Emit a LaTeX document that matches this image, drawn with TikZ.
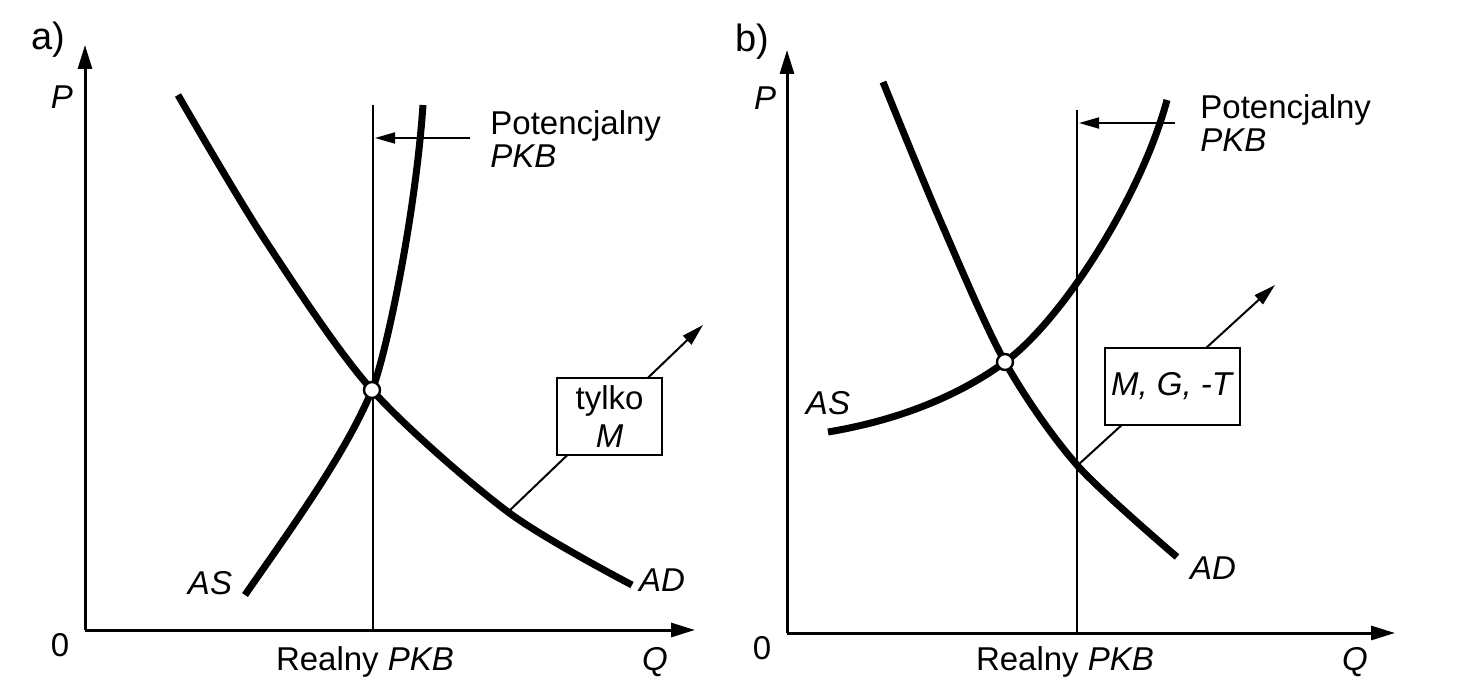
\documentclass[tikz,border=0pt]{standalone}
\usepackage{fontspec}
\setmainfont{Liberation Sans}
\usetikzlibrary{arrows.meta}
\begin{document}
\begin{tikzpicture}[x=0.5pt,y=-0.5pt,
  font=\fontsize{16.5}{19}\selectfont,
  axis/.style={line width=1.5pt,-{Triangle[length=12pt,width=7pt]}},
  curve/.style={line width=3.5pt},
  potline/.style={line width=1pt},
  shiftarrow/.style={line width=0.9pt,-{Triangle[length=10pt,width=5.5pt]}},
  policy/.style={line width=1pt,-{Triangle[length=11pt,width=6pt]}},
  policybox/.style={draw,line width=1.3pt,fill=white,minimum height=38.5pt,align=center,inner sep=1pt},
  eq/.style={circle,draw,line width=1.2pt,fill=white,minimum size=8pt,inner sep=0pt},
  lbl/.style={inner sep=0pt},
  panel/.style={inner sep=0pt,font=\fontsize{19}{22}\selectfont}]
\useasboundingbox (0,0) rectangle (1458,690);

% ---------- panel a ----------
\node[panel] (la) at (48,40) {a)};
\coordinate (Oa) at (85,630);
\coordinate (Pa) at (85,45);
\coordinate (Qa) at (695,630);
\draw[axis] (Oa) -- (Pa);
\draw[axis] (Oa) -- (Qa);
\node[lbl] (pa) at (62,97) {\textit{P}};
\node[lbl] (za) at (60,645) {0};
\node[lbl] (qa) at (655,662) {\textit{Q}};
\node[lbl] (ra) at (365,662) {Realny \textit{PKB}};

\coordinate (va1) at (373,105);
\coordinate (va2) at (373,630);
\draw[potline] (va1) -- (va2);
\coordinate (pta) at (470,138);
\coordinate (pha) at (375,138);
\draw[shiftarrow] (pta) -- (pha);
\node[lbl,anchor=north west,align=left,font=\fontsize{16.5}{16.5}\selectfont] (pota) at (490,110) {Potencjalny\\\textit{PKB}};

\draw[curve] plot[smooth] coordinates {(178,95) (265,240) (372,390) (508,512) (632,585)};
\draw[curve] (245,595) .. controls (290,530) and (345,455) .. (372,390)
                       .. controls (385,359) and (415,220) .. (423,105);
\node[lbl] (asa) at (210,583) {\textit{AS}};
\node[lbl] (ada) at (662,580) {\textit{AD}};

\coordinate (ca) at (508,512);
\coordinate (ta) at (703,325);
\draw[policy] (ca) -- (ta);
\node[policybox,minimum width=52.5pt] (boxa) at (609.5,416.5) {tylko\\\textit{M}};
\node[eq] (ea) at (372,390) {};

% ---------- panel b ----------
\node[panel] (lb) at (752,42) {b)};
\coordinate (Ob) at (787,633);
\coordinate (Pb) at (787,50);
\coordinate (Qb) at (1395,633);
\draw[axis] (Ob) -- (Pb);
\draw[axis] (Ob) -- (Qb);
\node[lbl] (pb) at (765,98) {\textit{P}};
\node[lbl] (zb) at (762,648) {0};
\node[lbl] (qb) at (1355,662) {\textit{Q}};
\node[lbl] (rb) at (1065,662) {Realny \textit{PKB}};

\coordinate (vb1) at (1077,110);
\coordinate (vb2) at (1077,633);
\draw[potline] (vb1) -- (vb2);
\coordinate (ptb) at (1175,123);
\coordinate (phb) at (1079,123);
\draw[shiftarrow] (ptb) -- (phb);
\node[lbl,anchor=north west,align=left,font=\fontsize{16.5}{16.5}\selectfont] (potb) at (1200,94) {Potencjalny\\\textit{PKB}};

\draw[curve] plot[smooth] coordinates {(883,82) (940,220) (1005,362) (1077,465) (1177,557)};
\draw[curve] (828,432) .. controls (900,420) and (960,395) .. (1005,362)
                       .. controls (1060,322) and (1140,200) .. (1167,100);
\node[lbl] (asb) at (828,403) {\textit{AS}};
\node[lbl] (adb) at (1213,568) {\textit{AD}};

\coordinate (cb) at (1078,465);
\coordinate (tb) at (1275,285);
\draw[policy] (cb) -- (tb);
\node[policybox,minimum width=67.5pt] (boxb) at (1172.5,386.5) {\textit{M, G, -T}};
\node[eq] (eb) at (1005,362) {};
\end{tikzpicture}
\end{document}
